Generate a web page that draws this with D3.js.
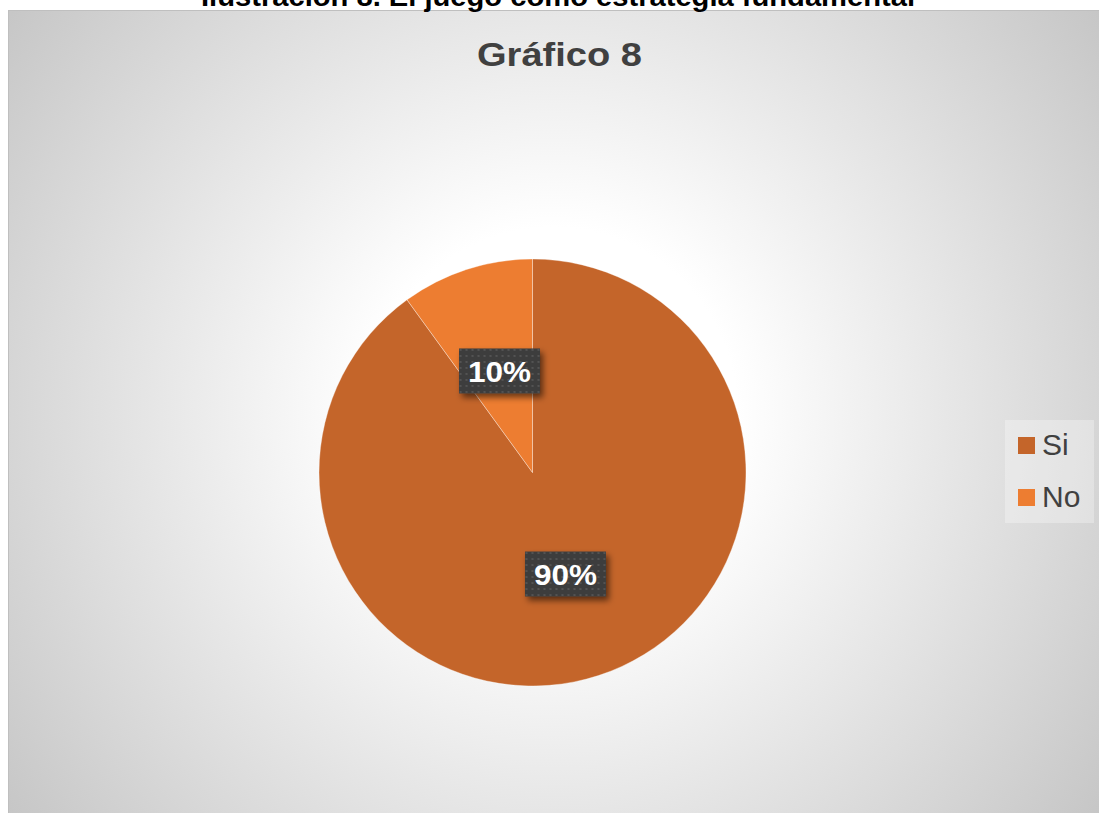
<!DOCTYPE html>
<html>
<head>
<meta charset="utf-8">
<script src="https://cdn.jsdelivr.net/npm/d3@7"></script>
<style>
  html, body { margin: 0; padding: 0; background: #ffffff; }
  svg { display: block; }
</style>
</head>
<body>
<svg id="chart" width="1099" height="813"></svg>
<script>
const categories = ["Si", "No"];
const values = [90, 10];
const valueLabels = ["90%", "10%"];
const colors = ["#c4652a", "#ed7d31"];
const captionText = "Ilustración 8. El juego como estrategia fundamental";
const titleText = "Gráfico 8";

const W = 1099, H = 813;
const svg = d3.select("#chart");
const defs = svg.append("defs");

// background radial gradient
const grad = defs.append("radialGradient")
  .attr("id", "bg").attr("gradientUnits", "userSpaceOnUse")
  .attr("cx", 553).attr("cy", 411).attr("r", 680);
grad.append("stop").attr("offset", 0).attr("stop-color", "#ffffff");
grad.append("stop").attr("offset", 0.27).attr("stop-color", "#ffffff");
grad.append("stop").attr("offset", 1).attr("stop-color", "#c6c6c6");

// dotted pattern for labels
const pat = defs.append("pattern").attr("id", "dots")
  .attr("patternUnits", "userSpaceOnUse").attr("width", 6).attr("height", 6);
pat.append("rect").attr("width", 6).attr("height", 6).attr("fill", "#3d3d3d");
pat.append("circle").attr("cx", 3).attr("cy", 3).attr("r", 1.1).attr("fill", "#575757");

const sh = defs.append("filter").attr("id", "shadow")
  .attr("x", "-30%").attr("y", "-30%").attr("width", "160%").attr("height", "160%");
sh.append("feDropShadow").attr("dx", 3).attr("dy", 4).attr("stdDeviation", 3)
  .attr("flood-color", "#000").attr("flood-opacity", 0.55);

// chart area
svg.append("rect").attr("x", 8.5).attr("y", 10.5).attr("width", W).attr("height", H)
  .attr("fill", "url(#bg)").attr("stroke", "#bfbfbf").attr("stroke-width", 1);

// cut-off caption at top (as in the reference, only its lower part shows)
svg.append("text").attr("x", 558).attr("y", 6)
  .attr("text-anchor", "middle")
  .attr("font-family", "Liberation Sans, Arial, sans-serif")
  .attr("font-weight", "bold").attr("font-size", 28)
  .attr("textLength", 714).attr("lengthAdjust", "spacingAndGlyphs")
  .attr("fill", "#000").text(captionText);

// title
svg.append("text").attr("x", 559.5).attr("y", 66)
  .attr("text-anchor", "middle")
  .attr("font-family", "Liberation Sans, Arial, sans-serif")
  .attr("font-weight", "bold").attr("font-size", 33)
  .attr("textLength", 165).attr("lengthAdjust", "spacingAndGlyphs")
  .attr("fill", "#404040").text(titleText);

// pie
const cx = 532.5, cy = 472.5, r = 213.5;
const pie = d3.pie().sort(null).value(d => d)(values);
const arc = d3.arc().innerRadius(0).outerRadius(r);
const g = svg.append("g").attr("transform", `translate(${cx},${cy})`);
g.selectAll("path.slice").data(pie).enter().append("path")
  .attr("class", "slice")
  .attr("d", arc)
  .attr("fill", (d, i) => colors[i])
  .attr("stroke", "rgba(255,255,255,0.35)").attr("stroke-width", 1);

// data labels
const bw = 81, bh = 45;
const lab = g.selectAll("g.lab").data(pie).enter().append("g")
  .attr("class", "lab")
  .attr("transform", d => { const c = arc.centroid(d); return `translate(${c[0]},${c[1]})`; });
lab.append("rect").attr("x", -bw / 2).attr("y", -bh / 2).attr("width", bw).attr("height", bh)
  .attr("fill", "url(#dots)").attr("filter", "url(#shadow)");
lab.append("text").attr("x", 0).attr("y", 11)
  .attr("text-anchor", "middle")
  .attr("font-family", "Liberation Sans, Arial, sans-serif")
  .attr("font-weight", "bold").attr("font-size", 30)
  .attr("textLength", 63).attr("lengthAdjust", "spacingAndGlyphs")
  .attr("fill", "#ffffff").text((d, i) => valueLabels[i]);

// legend
const leg = svg.append("g").attr("transform", "translate(1005,420)");
leg.append("rect").attr("width", 89).attr("height", 103)
  .attr("fill", "#ffffff").attr("fill-opacity", 0.3);
const li = leg.selectAll("g.li").data(categories).enter().append("g")
  .attr("class", "li")
  .attr("transform", (d, i) => `translate(0,${i * 52})`);
li.append("rect").attr("x", 13).attr("y", 17).attr("width", 17).attr("height", 17)
  .attr("fill", (d, i) => colors[i]);
li.append("text").attr("x", 37).attr("y", 35)
  .attr("font-family", "Liberation Sans, Arial, sans-serif")
  .attr("font-size", 30).attr("fill", "#404040").text(d => d);
</script>
</body>
</html>
